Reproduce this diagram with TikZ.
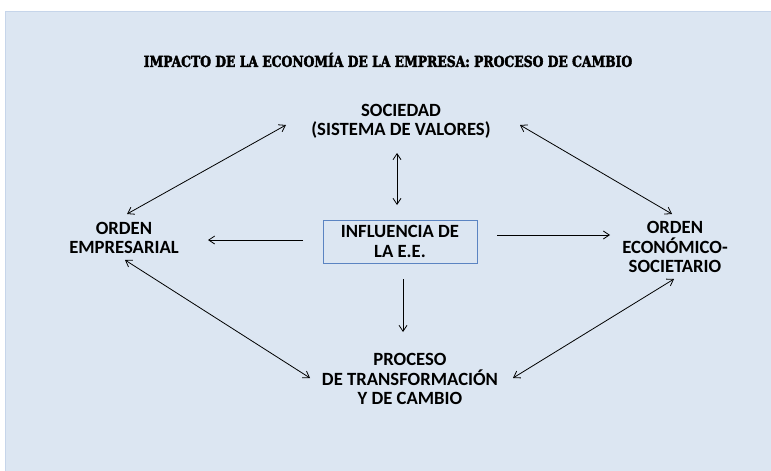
\documentclass[tikz,border=0pt]{standalone}
\usepackage{fontspec}
\setmainfont{Carlito}
\newfontfamily\titlefont{DejaVu Serif}[FakeStretch=0.82,FakeBold=2.5]
\usetikzlibrary{arrows.meta}
\definecolor{panel}{HTML}{DCE6F2}
\definecolor{panelline}{HTML}{C6D5EA}
\definecolor{boxline}{HTML}{5B84C2}
\begin{document}
\begin{tikzpicture}[x=0.75pt,y=-0.75pt,
  lbl/.style={font=\bfseries\fontsize{14}{14.5}\selectfont,align=center,inner sep=0pt},
  arr/.style={-{Straight Barb[length=4.5pt,width=6pt]},line width=0.6pt},
  dbl/.style={{Straight Barb[length=4.5pt,width=6pt]}-{Straight Barb[length=4.5pt,width=6pt]},line width=0.6pt}]
  \useasboundingbox (0,0) rectangle (771,471);
  \draw[panelline,fill=panel] (5,11) rectangle (771,471);
  \node[font=\titlefont\bfseries\fontsize{11.3}{13}\selectfont,inner sep=0pt] (title) at (388,60) {IMPACTO DE LA ECONOMÍA DE LA EMPRESA: PROCESO DE CAMBIO};
  \node[lbl] (soc) at (401,121) {SOCIEDAD\\(SISTEMA DE VALORES)};
  \node[lbl] (emp) at (124,238) {ORDEN\\EMPRESARIAL};
  \node[lbl] (eco) at (675,247) {ORDEN\\ECONÓMICO-\\SOCIETARIO};
  \node[lbl] (proc) at (410,379) {PROCESO\\DE TRANSFORMACIÓN\\Y DE CAMBIO};
  \node[lbl,draw=boxline,line width=0.6pt,minimum width=115.5pt,minimum height=32.25pt] (infl) at (400,241.5) {INFLUENCIA DE\\LA E.E.};
  \draw[dbl] ([shift={(-115,4)}]soc.center) -- ([shift={(3,-24)}]emp.center);
  \draw[dbl] ([shift={(119,4)}]soc.center) -- ([shift={(-3,-33)}]eco.center);
  \draw[dbl] ([shift={(-4,32)}]soc.center) -- ([shift={(-3,-36.5)}]infl.center);
  \draw[arr] ([shift={(-97,-1.5)}]infl.center) -- ([shift={(84,2)}]emp.center);
  \draw[arr] ([shift={(97,-6.5)}]infl.center) -- ([shift={(-65,-12)}]eco.center);
  \draw[arr] ([shift={(3,37.5)}]infl.center) -- ([shift={(-7,-47)}]proc.center);
  \draw[dbl] ([shift={(1,22)}]emp.center) -- ([shift={(-100,-1)}]proc.center);
  \draw[dbl] ([shift={(103,-1)}]proc.center) -- ([shift={(-1,32)}]eco.center);
\end{tikzpicture}
\end{document}
